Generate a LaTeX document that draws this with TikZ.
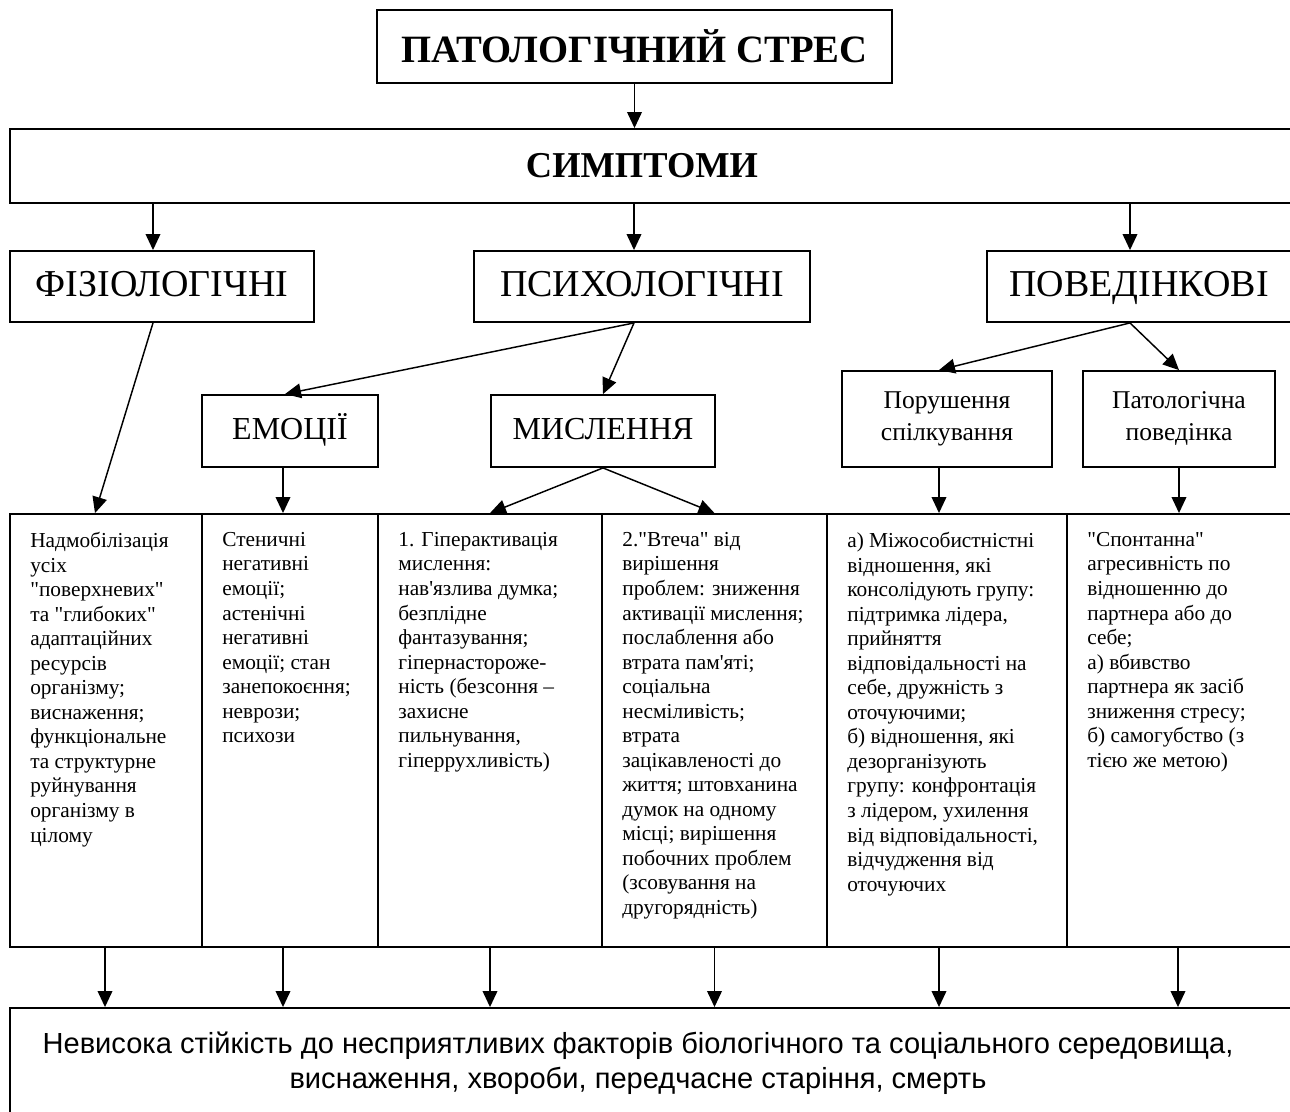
\documentclass[tikz,border=0pt]{standalone}
\usepackage{fontspec}
\setmainfont{Liberation Serif}[Ligatures=TeXOff]
\setsansfont{Liberation Sans}
\usetikzlibrary{arrows.meta, calc}

\begin{document}
\begin{tikzpicture}[x=0.75pt, y=-0.75pt,
            box/.style={draw, line width=1.4pt, inner sep=0pt},
            head/.style={font=\fontsize{27.3}{32}\selectfont\bfseries},
            lvl/.style={font=\fontsize{28.5}{32}\selectfont, text height=19pt, text depth=4pt},
            sub/.style={align=center, font=\fontsize{24}{27}\selectfont, text height=17pt, text depth=4pt},
            col/.style={draw, line width=1.4pt, inner sep=0pt, minimum height=324.75pt},
            txt/.style={anchor=north west, inner sep=0pt, align=left, font=\fontsize{16}{18.4}\selectfont},
            arr/.style={-{Triangle[length=12pt,width=11pt]}, line width=1.1pt}]
            \useasboundingbox (0,0) rectangle (1290,1112);
            % top levels
            \node[box, head, font=\fontsize{29}{32}\selectfont\bfseries, minimum width=386.25pt, minimum height=54.75pt] (stress) at (634.5,46.5) {ПАТОЛОГІЧНИЙ СТРЕС};
            \node[box, minimum width=961.5pt, minimum height=55.5pt] (symp) at (651,166) {};
            \node[head] (symptxt) at (642,166) {СИМПТОМИ};
            \node[box, lvl, minimum width=228pt, minimum height=53.25pt] (fiz) at (162,286.5) {ФІЗІОЛОГІЧНІ};
            \node[box, lvl, minimum width=252pt, minimum height=53.25pt] (psy) at (642,286.5) {ПСИХОЛОГІЧНІ};
            \node[box, lvl, minimum width=228pt, minimum height=53.25pt] (beh) at (1139,286.5) {ПОВЕДІНКОВІ};
            \node[box, sub, minimum width=132pt, minimum height=54pt] (emo) at (290,431) {ЕМОЦІЇ};
            \node[box, sub, minimum width=168pt, minimum height=54pt] (mys) at (603,431) {МИСЛЕННЯ};
            \node[box, align=center, font=\fontsize{19.2}{24}\selectfont, minimum width=157.5pt, minimum height=72pt] (por) at (947,419) {Порушення\\спілкування};
            \node[box, align=center, font=\fontsize{19.2}{24}\selectfont, minimum width=144pt, minimum height=72pt] (pat) at (1179,419) {Патологічна\\поведінка};
            % columns
            \node[col, minimum width=144pt]    (c1) at (106,730.5) {};
            \node[col, minimum width=132pt]    (c2) at (290,730.5) {};
            \node[col, minimum width=168pt]    (c3) at (490,730.5) {};
            \node[col, minimum width=168.75pt] (c4) at (714.5,730.5) {};
            \node[col, minimum width=180pt]    (c5) at (947,730.5) {};
            \node[col, minimum width=168pt]    (c6) at (1179,730.5) {};
            \node[txt] (t1) at ($(c1.north west)+(21,19)$) {Надмобілізація\\усіх\\"поверхневих"\\та "глибоких"\\адаптаційних\\ресурсів\\організму;\\виснаження;\\функціональне\\та структурне\\руйнування\\організму в\\цілому};
            \node[txt] (t2) at ($(c2.north west)+(21,19)$) {Стеничні\\негативні\\емоції;\\астенічні\\негативні\\емоції; стан\\занепокоєння;\\неврози;\\психози};
            \node[txt] (t3) at ($(c3.north west)+(21,19)$) {1. Гіперактивація\\мислення:\\нав'язлива думка;\\безплідне\\фантазування;\\гіпернастороже-\\ність (безсоння –\\захисне\\пильнування,\\гіперрухливість)};
            \node[txt] (t4) at ($(c4.north west)+(21,19)$) {2."Втеча" від\\вирішення\\проблем: зниження\\активації мислення;\\послаблення або\\втрата пам'яті;\\соціальна\\несміливість;\\втрата\\зацікавленості до\\життя; штовханина\\думок на одному\\місці; вирішення\\побочних проблем\\(зсовування на\\другорядність)};
            \node[txt] (t5) at ($(c5.north west)+(21,19)$) {а) Міжособистністні\\відношення, які\\консолідують групу:\\підтримка лідера,\\прийняття\\відповідальності на\\себе, дружність з\\оточуючими;\\б) відношення, які\\дезорганізують\\групу: конфронтація\\з лідером, ухилення\\від відповідальності,\\відчудження від\\оточуючих};
            \node[txt] (t6) at ($(c6.north west)+(21,19)$) {"Спонтанна"\\агресивність по\\відношенню до\\партнера або до\\себе;\\а) вбивство\\партнера як засіб\\зниження стресу;\\б) самогубство (з\\тією же метою)};
            % result
            \node[box, minimum width=961.5pt, minimum height=87.75pt] (res) at (651,1066.5) {};
            \node[align=center, font=\sffamily\fontsize{21.8}{26}\selectfont] (restxt) at (638,1063) {Невисока стійкість до несприятливих факторів біологічного та соціального середовища,\\виснаження, хвороби, передчасне старіння, смерть};
            % arrows
            \draw[arr] (stress.south) -- (stress.south |- symp.north);
            \draw[arr] ($(symp.south -| fiz.north)+(-9,0)$) -- ($(fiz.north)+(-9,0)$);
            \draw[arr] ($(symp.south -| psy.north)+(-8,0)$) -- ($(psy.north)+(-8,0)$);
            \draw[arr] ($(symp.south -| beh.north)+(-9,0)$) -- ($(beh.north)+(-9,0)$);
            \draw[arr] ($(fiz.south)+(-9,0)$) -- ($(c1.north)+(-11,0)$);
            \draw[arr] ($(psy.south)+(-8,0)$) -- ($(emo.north)+(-5,0)$);
            \draw[arr] ($(psy.south)+(-8,0)$) -- (mys.north);
            \draw[arr] ($(beh.south)+(-9,0)$) -- ($(por.north)+(-8,0)$);
            \draw[arr] ($(beh.south)+(-9,0)$) -- (pat.north);
            \draw[arr] ($(emo.south)+(-7,0)$) -- ($(c2.north)+(-7,0)$);
            \draw[arr] (mys.south) -- (c3.north);
            \draw[arr] (mys.south) -- (c4.north);
            \draw[arr] ($(por.south)+(-8,0)$) -- ($(c5.north)+(-8,0)$);
            \draw[arr] (pat.south) -- (c6.north);
            \foreach \c/\dx in {c1/-1, c2/-7, c3/0, c4/0, c5/-8, c6/-1}
              \draw[arr] ($(\c.south)+(\dx,0)$) -- ($(res.north -| \c.south)+(\dx,0)$);
        \end{tikzpicture}
\end{document}
